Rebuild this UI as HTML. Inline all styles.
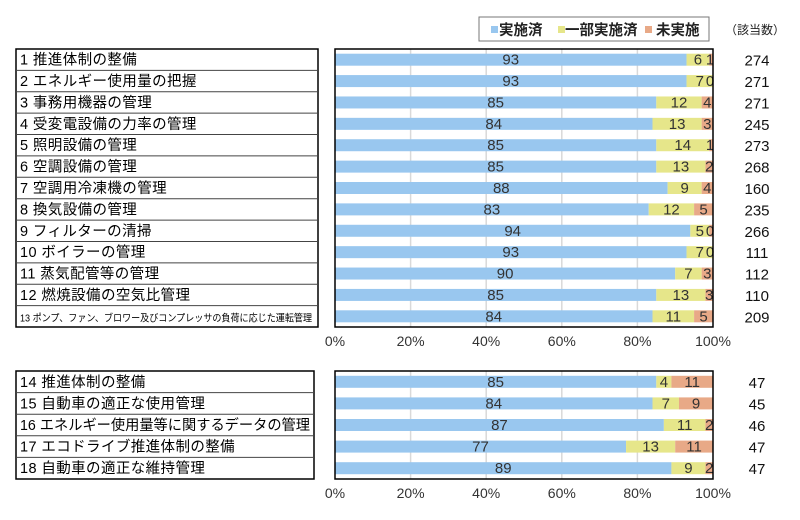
<!DOCTYPE html>
<html><head><meta charset="utf-8"><style>body{margin:0;background:#fff}svg{display:block}text{font-family:"Liberation Sans","Noto Sans CJK JP",sans-serif}</style></head><body>
<svg width="800" height="520" xmlns="http://www.w3.org/2000/svg" id="s">
<rect x="0" y="0" width="800" height="520" fill="#fff"/>
<rect x="479" y="17" width="230" height="24" fill="#fff" stroke="#777" stroke-width="1"/>
<rect x="491" y="26" width="7" height="7" fill="#99c7ef"/><text x="499" y="35" font-size="14.5" font-weight="bold" fill="#222">実施済</text>
<rect x="558" y="26" width="7" height="7" fill="#e6e68a"/><text x="565" y="35" font-size="14.5" font-weight="bold" fill="#222">一部実施済</text>
<rect x="645" y="26" width="7" height="7" fill="#e8a987"/><text x="656" y="35" font-size="14.5" font-weight="bold" fill="#222">未実施</text>
<text x="725" y="34" font-size="12" fill="#222">（該当数）</text>
<g id="g"></g>
</svg>
<script>
(function(){
var g=document.getElementById('g'),h='';
var d1=[["1 推進体制の整備",93,6,1,274],["2 エネルギー使用量の把握",93,7,0,271],["3 事務用機器の管理",85,12,4,271],["4 受変電設備の力率の管理",84,13,3,245],["5 照明設備の管理",85,14,1,273],["6 空調設備の管理",85,13,2,268],["7 空調用冷凍機の管理",88,9,4,160],["8 換気設備の管理",83,12,5,235],["9 フィルターの清掃",94,5,0,266],["10 ボイラーの管理",93,7,0,111],["11 蒸気配管等の管理",90,7,3,112],["12 燃焼設備の空気比管理",85,13,3,110],["13 ポンプ、ファン、ブロワー及びコンプレッサの負荷に応じた運転管理",84,11,5,209]];
var d2=[["14 推進体制の整備",85,4,11,47],["15 自動車の適正な使用管理",84,7,9,45],["16 エネルギー使用量等に関するデータの管理",87,11,2,46],["17 エコドライブ推進体制の整備",77,13,11,47],["18 自動車の適正な維持管理",89,9,2,47]];
var X0=335,W=378;
function panel(d,y0,y1,lx1){
 var n=d.length,st=(y1-y0)/n;
 for(var i=1;i<5;i++)h+='<line x1="'+(X0+W*i/5)+'" y1="'+y0+'" x2="'+(X0+W*i/5)+'" y2="'+y1+'" stroke="#d9d9d9" stroke-width="1.5"/>';
 h+='<rect x="16" y="'+y0+'" width="'+(lx1-16)+'" height="'+(y1-y0)+'" fill="none" stroke="#000" stroke-width="1.5"/>';
 d.forEach(function(r,i){
  var cy=y0+st*(i+0.5),by=cy-6;
  var a=X0+W*r[1]/100,b=Math.min(X0+W,a+W*r[2]/100);
  h+='<rect x="'+X0+'" y="'+by+'" width="'+(a-X0)+'" height="12" fill="#99c7ef"/>';
  h+='<rect x="'+a+'" y="'+by+'" width="'+(b-a)+'" height="12" fill="#e6e68a"/>';
  if(b<X0+W)h+='<rect x="'+b+'" y="'+by+'" width="'+(X0+W-b)+'" height="12" fill="#e8a987"/>';
  var t='font-size="15" fill="#333" text-anchor="middle"';
  h+='<text x="'+((X0+a)/2)+'" y="'+(cy+5)+'" '+t+'>'+r[1]+'</text>';
  h+='<text x="'+((a+b)/2)+'" y="'+(cy+5)+'" '+t+'>'+r[2]+'</text>';
  var cx=(b+X0+W)/2; if(X0+W-b<6)cx=X0+W-3;
  h+='<text x="'+cx+'" y="'+(cy+5)+'" '+t+'>'+r[3]+'</text>';
  h+='<text x="757" y="'+(cy+6)+'" font-size="15" fill="#111" text-anchor="middle">'+r[4]+'</text>';
  var L=r[0].length,extra;
  if(L>30)extra=' font-size="10" textLength="292" lengthAdjust="spacingAndGlyphs"';
  else if(L>18)extra=' font-size="14.5" textLength="290" lengthAdjust="spacingAndGlyphs"';
  else extra=' font-size="14.5" letter-spacing="0.4"';
  h+='<text x="20" y="'+(cy+5)+'" fill="#000"'+extra+'>'+r[0]+'</text>';
  if(i<n-1)h+='<line x1="16" y1="'+(y0+st*(i+1))+'" x2="'+lx1+'" y2="'+(y0+st*(i+1))+'" stroke="#444" stroke-width="1"/>';
 });
 h+='<rect x="'+X0+'" y="'+y0+'" width="'+W+'" height="'+(y1-y0)+'" fill="none" stroke="#000" stroke-width="1.5"/>';
 for(var i=0;i<=5;i++)h+='<text x="'+(X0+W*i/5)+'" y="'+(y1+19)+'" font-size="14" fill="#333" text-anchor="middle">'+(i*20)+'%</text>';
}
panel(d1,49,327,318);
panel(d2,371,479,314);
g.innerHTML=h;
})();
</script>
</body></html>
